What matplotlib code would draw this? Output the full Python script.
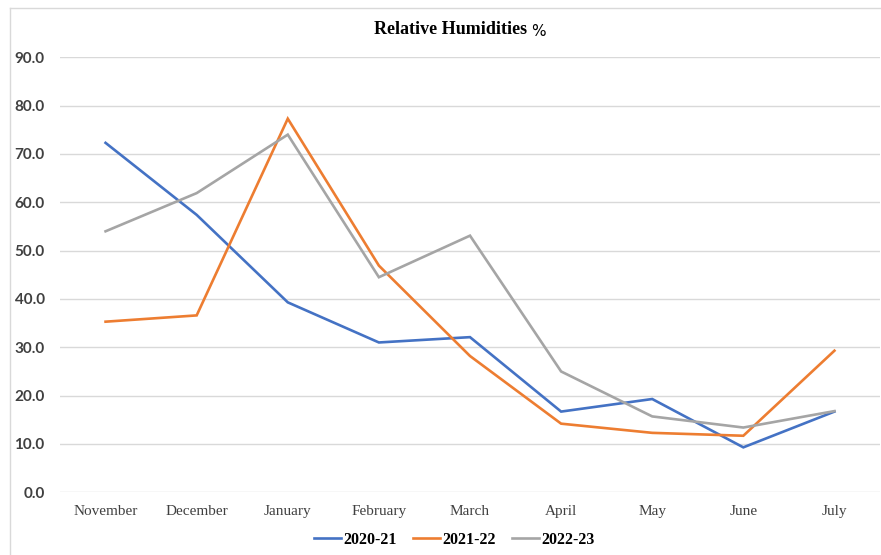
import matplotlib
matplotlib.use("Agg")
import matplotlib.pyplot as plt
from matplotlib.lines import Line2D

# monthly mean relative humidity (%) per season
months = ["November", "December", "January", "February", "March",
          "April", "May", "June", "July"]
rh_2020_21 = [72.3, 57.4, 39.3, 31.0, 32.1, 16.7, 19.3, 9.3, 16.7]
rh_2021_22 = [35.3, 36.6, 77.3, 46.9, 28.2, 14.2, 12.3, 11.7, 29.3]
rh_2022_23 = [54.0, 61.9, 74.0, 44.5, 53.1, 25.0, 15.7, 13.4, 16.8]
seasons = ["2020-21", "2021-22", "2022-23"]
colors = ["#4472C4", "#ED7D31", "#A5A5A5"]
yticks = [0, 10, 20, 30, 40, 50, 60, 70, 80, 90]

fig = plt.figure(figsize=(8.81, 5.55), dpi=100)
ax = fig.add_axes([60 / 881, 1 - 492.3 / 555, 820 / 881, (492.3 - 57.3) / 555])

x = range(len(months))
for vals, lab, c in zip([rh_2020_21, rh_2021_22, rh_2022_23], seasons, colors):
    ax.plot(x, vals, color=c, lw=1.9, label=lab, solid_joinstyle="miter")

ax.set_xlim(-0.5, len(months) - 0.5)
ax.set_ylim(0, 90)
ax.set_yticks(yticks)
ax.set_yticklabels([f"{v:.1f}" for v in yticks], fontfamily="Lato",
                   fontweight="bold", fontsize=11, color="#404040")
ax.set_xticks(list(x))
ax.set_xticklabels(months, fontfamily="Liberation Serif", fontsize=11,
                   color="#404040")
ax.tick_params(axis="both", length=0)
ax.tick_params(axis="y", pad=11)
ax.tick_params(axis="x", pad=9)
ax.grid(axis="y", color="#D9D9D9", lw=1)
ax.set_axisbelow(True)
for s in ax.spines.values():
    s.set_visible(False)

# title: bold serif text followed by a plain % sign
fig.text(527 / 881, 1 - 30 / 555, "Relative Humidities", ha="right", va="center",
         fontfamily="Liberation Serif", fontweight="bold", fontsize=13)
fig.text(531 / 881, 1 - 31 / 555, "%", ha="left", va="center",
         fontfamily="DejaVu Sans", fontsize=11)

leg = fig.legend(loc="center", bbox_to_anchor=(454 / 881, 1 - 540 / 555),
                 ncol=3, frameon=False, handlelength=1.7, columnspacing=1.0,
                 handletextpad=0.15,
                 prop={"family": "Liberation Serif", "weight": "bold", "size": 11.5})

# chart frame (cut off on the right and bottom)
fig.add_artist(Line2D([10 / 881, 1], [1 - 8 / 555, 1 - 8 / 555],
                      color="#D9D9D9", lw=1, transform=fig.transFigure))
fig.add_artist(Line2D([10 / 881, 10 / 881], [0, 1 - 8 / 555],
                      color="#D9D9D9", lw=1, transform=fig.transFigure))

fig.savefig("out.png", dpi=100)
